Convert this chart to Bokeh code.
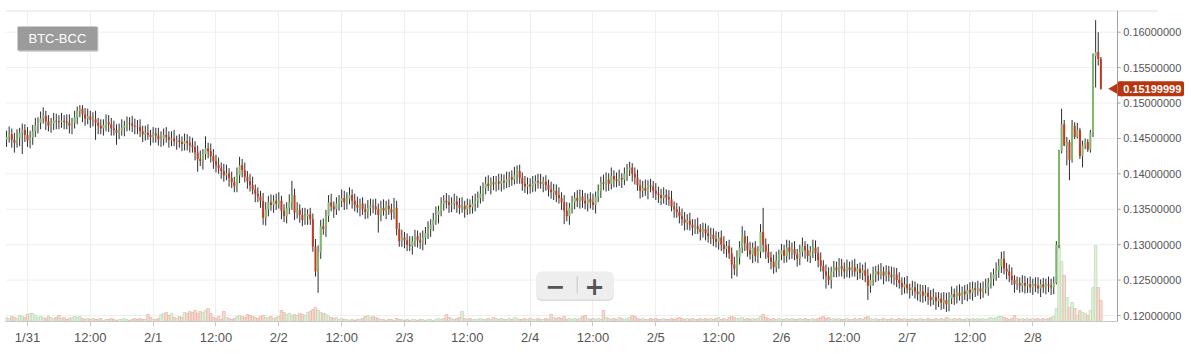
import numpy as np
from bokeh.plotting import figure
from bokeh.models import Range1d, FixedTicker, Label, BoxAnnotation, Span
from bokeh.core.properties import value
from bokeh.embed import file_html
from bokeh.resources import INLINE

symbol = "BTC-BCC"
last_price = 0.15199999
x_tick_hours = [0, 12, 24, 36, 48, 60, 72, 84, 96, 108, 120, 132, 144, 156, 168, 180, 192]
x_tick_labels = ["1/31", "12:00", "2/1", "12:00", "2/2", "12:00", "2/3", "12:00", "2/4",
                 "12:00", "2/5", "12:00", "2/6", "12:00", "2/7", "12:00", "2/8"]
y_ticks = [0.12, 0.125, 0.13, 0.135, 0.14, 0.145, 0.15, 0.155, 0.16]
first_candle_hour = -4.0   # hours after 1/31 00:00
candle_hours = 0.5         # 30-minute candles
price_unit = 1e-4          # prices below are in units of 0.0001 BTC

opens = [
1448,1452,1456,1448,1444,1451,1458,1462,1455,1447, 1451,1460,1468,1472,1478,1482,1474,1468,1471,1475,
1474,1473,1475,1474,1472,1468,1472,1480,1489,1492, 1484,1478,1481,1476,1477,1472,1468,1464,1469,1473,
1470,1464,1462,1458,1461,1465,1468,1472,1471,1468, 1467,1466,1460,1456,1458,1455,1452,1457,1454,1449,
1450,1455,1452,1448,1450,1446,1447,1445,1442,1446, 1444,1440,1438,1430,1421,1418,1428,1436,1432,1425,
1418,1412,1408,1404,1398,1401,1394,1388,1383,1398, 1412,1405,1396,1390,1384,1378,1372,1368,1362,1338,
1350,1360,1356,1362,1358,1362,1348,1340,1352,1360, 1370,1345,1349,1342,1335,1340,1343,1336,1297,1262,
1289,1326,1322,1341,1360,1354,1350,1358,1362,1366, 1360,1365,1370,1362,1356,1352,1358,1350,1346,1352,
1355,1354,1350,1342,1352,1348,1355,1350,1345,1352, 1322,1305,1310,1306,1300,1298,1305,1312,1306,1303,
1310,1316,1322,1328,1335,1342,1348,1358,1362,1360, 1356,1358,1361,1356,1352,1355,1350,1356,1353,1358,
1362,1366,1372,1380,1386,1383,1388,1385,1389,1386, 1390,1388,1392,1395,1392,1398,1404,1394,1386,1382,
1385,1382,1386,1390,1388,1386,1389,1384,1378,1374, 1376,1370,1366,1360,1348,1340,1352,1360,1366,1362,
1368,1362,1358,1364,1360,1356,1368,1376,1388,1386, 1392,1386,1397,1392,1390,1394,1392,1400,1406,1409,
1400,1395,1384,1376,1380,1376,1384,1382,1376,1372, 1370,1366,1370,1367,1364,1354,1350,1346,1340,1336,
1331,1334,1328,1324,1326,1322,1318,1322,1316,1312, 1314,1308,1304,1310,1300,1294,1298,1288,1272,1266,
1282,1296,1312,1302,1292,1286,1296,1284,1290,1318, 1300,1290,1282,1276,1268,1278,1286,1292,1284,1296,
1290,1294,1286,1280,1290,1298,1292,1284,1290,1296, 1288,1278,1270,1262,1256,1250,1262,1268,1264,1270,
1266,1262,1268,1264,1268,1262,1266,1260,1264,1256, 1242,1250,1258,1262,1258,1262,1256,1262,1258,1254,
1258,1250,1246,1240,1244,1238,1236,1240,1234,1230, 1234,1228,1232,1226,1222,1226,1220,1224,1218,1222,
1216,1224,1230,1226,1232,1228,1234,1230,1236,1232, 1238,1236,1238,1234,1238,1240,1246,1252,1258,1264,
1270,1280,1266,1262,1256,1250,1244,1246,1242,1246, 1242,1244,1240,1244,1242,1238,1244,1240,1244,1242,
1240,1246,1300,1432,1470,1440,1445,1420,1468,1452, 1462,1425,1440,1445,1434,1458,1566,1572,1562]

highs = [
1461,1467,1464,1458,1463,1465,1471,1470,1466,1461, 1469,1479,1480,1488,1494,1489,1483,1479,1486,1485,
1483,1486,1483,1484,1484,1479,1489,1495,1497,1497, 1493,1492,1489,1487,1489,1479,1477,1477,1484,1483,
1479,1475,1470,1471,1477,1475,1481,1480,1482,1478, 1476,1477,1468,1468,1470,1462,1466,1465,1465,1460,
1464,1466,1460,1460,1462,1454,1456,1453,1457,1456, 1453,1451,1446,1440,1433,1435,1453,1444,1443,1435,
1427,1423,1416,1414,1413,1408,1403,1396,1409,1424, 1421,1416,1404,1400,1396,1385,1381,1376,1373,1360,
1369,1371,1370,1372,1374,1369,1357,1360,1371,1390, 1379,1360,1357,1352,1352,1350,1352,1344,1308,1299,
1335,1337,1349,1370,1372,1361,1367,1370,1378,1376, 1374,1381,1378,1372,1368,1365,1367,1358,1363,1365,
1364,1365,1358,1362,1364,1362,1364,1358,1366,1362, 1331,1321,1318,1316,1312,1312,1321,1320,1317,1320,
1325,1333,1336,1345,1354,1355,1367,1370,1373,1370, 1367,1372,1369,1366,1367,1362,1365,1364,1369,1372,
1375,1383,1388,1396,1398,1395,1397,1397,1400,1400, 1399,1403,1403,1405,1410,1412,1413,1402,1397,1395,
1394,1397,1398,1400,1400,1396,1398,1392,1389,1386, 1385,1381,1374,1370,1360,1359,1369,1374,1377,1378,
1377,1373,1372,1374,1372,1375,1385,1396,1399,1402, 1401,1409,1405,1402,1406,1401,1409,1414,1417,1415,
1409,1406,1392,1390,1392,1391,1393,1390,1387,1382, 1379,1381,1378,1377,1376,1361,1359,1354,1351,1346,
1343,1345,1336,1336,1338,1329,1331,1330,1327,1324, 1323,1319,1318,1320,1312,1305,1307,1296,1283,1292,
1305,1326,1320,1312,1304,1303,1305,1298,1329,1352, 1309,1301,1290,1286,1290,1293,1301,1300,1307,1306,
1303,1305,1294,1300,1310,1305,1301,1298,1307,1306, 1297,1289,1278,1272,1268,1269,1277,1276,1281,1280,
1275,1279,1276,1278,1280,1273,1275,1272,1275,1266, 1259,1269,1270,1272,1274,1269,1271,1270,1269,1268,
1267,1261,1254,1254,1256,1245,1249,1248,1245,1244, 1243,1243,1240,1236,1238,1233,1233,1232,1233,1232,
1233,1241,1238,1242,1244,1241,1243,1244,1247,1248, 1247,1249,1246,1248,1252,1253,1261,1266,1275,1280,
1290,1291,1274,1272,1268,1257,1255,1254,1257,1256, 1253,1255,1252,1254,1254,1251,1253,1252,1255,1252,
1255,1305,1434,1492,1476,1452,1448,1476,1473,1472, 1465,1447,1450,1449,1462,1570,1617,1600,1565]

lows = [
1438,1444,1437,1430,1437,1439,1428,1445,1438,1436, 1441,1452,1457,1463,1471,1462,1460,1458,1462,1463,
1463,1465,1463,1463,1457,1456,1464,1470,1480,1473, 1468,1470,1465,1467,1448,1456,1456,1454,1460,1459,
1454,1454,1441,1449,1454,1453,1460,1461,1459,1456, 1456,1452,1445,1447,1448,1440,1444,1444,1440,1438,
1440,1444,1437,1439,1439,1434,1437,1432,1433,1433, 1430,1430,1419,1403,1411,1406,1420,1422,1416,1407,
1402,1400,1393,1389,1391,1382,1380,1374,1374,1387, 1395,1388,1379,1375,1371,1360,1360,1352,1328,1327,
1340,1348,1345,1349,1351,1336,1332,1330,1343,1349, 1335,1337,1331,1326,1328,1328,1328,1290,1255,1232,
1280,1314,1311,1332,1347,1338,1342,1348,1353,1349, 1350,1357,1351,1347,1345,1340,1342,1336,1337,1341,
1344,1342,1317,1333,1341,1336,1342,1335,1336,1313, 1297,1297,1295,1291,1291,1286,1297,1296,1294,1292,
1300,1308,1311,1319,1328,1330,1340,1348,1351,1345, 1346,1350,1345,1343,1345,1338,1342,1343,1344,1347,
1352,1358,1361,1371,1376,1371,1377,1375,1377,1375, 1378,1380,1381,1383,1385,1386,1386,1376,1373,1371,
1372,1374,1375,1379,1379,1374,1376,1368,1365,1363, 1360,1358,1349,1329,1333,1328,1344,1350,1353,1351,
1352,1350,1347,1351,1349,1344,1360,1366,1377,1375, 1376,1378,1381,1381,1383,1380,1384,1390,1397,1389,
1385,1376,1365,1367,1369,1364,1374,1366,1363,1359, 1356,1358,1356,1355,1347,1338,1338,1330,1327,1320,
1321,1320,1313,1315,1315,1306,1310,1306,1303,1301, 1298,1296,1293,1291,1287,1282,1280,1252,1257,1255,
1272,1288,1291,1283,1279,1274,1276,1274,1281,1289, 1280,1274,1265,1259,1261,1266,1278,1274,1275,1279,
1280,1278,1269,1271,1283,1280,1276,1274,1281,1277, 1268,1262,1251,1238,1243,1238,1254,1254,1255,1255,
1252,1254,1253,1255,1255,1250,1252,1250,1247,1222, 1232,1242,1247,1249,1251,1244,1248,1248,1245,1243,
1240,1238,1229,1231,1231,1224,1228,1224,1221,1219, 1218,1220,1215,1213,1215,1208,1212,1208,1209,1205,
1206,1216,1215,1217,1221,1216,1222,1220,1223,1221, 1226,1228,1223,1225,1231,1228,1238,1242,1249,1253,
1260,1258,1251,1247,1243,1232,1236,1232,1233,1231, 1232,1232,1229,1233,1231,1226,1232,1230,1233,1229,
1230,1244,1295,1429,1439,1412,1391,1416,1449,1450, 1421,1409,1435,1431,1430,1452,1522,1553,1519]

closes = [
1452,1456,1448,1444,1451,1458,1462,1455,1447,1451, 1460,1468,1472,1478,1482,1474,1468,1471,1475,1474,
1473,1475,1474,1472,1468,1472,1480,1489,1492,1484, 1478,1481,1476,1477,1472,1468,1464,1469,1473,1470,
1464,1462,1458,1461,1465,1468,1472,1471,1468,1467, 1466,1460,1456,1458,1455,1452,1457,1454,1449,1450,
1455,1452,1448,1450,1446,1447,1445,1442,1446,1444, 1440,1438,1430,1421,1418,1428,1436,1432,1425,1418,
1412,1408,1404,1398,1401,1394,1388,1383,1398,1412, 1405,1396,1390,1384,1378,1372,1368,1362,1338,1350,
1360,1356,1362,1358,1362,1348,1340,1352,1360,1370, 1345,1349,1342,1335,1340,1343,1336,1297,1262,1289,
1326,1322,1341,1360,1354,1350,1358,1362,1366,1360, 1365,1370,1362,1356,1352,1358,1350,1346,1352,1355,
1354,1350,1342,1352,1348,1355,1350,1345,1352,1322, 1305,1310,1306,1300,1298,1305,1312,1306,1303,1310,
1316,1322,1328,1335,1342,1348,1358,1362,1360,1356, 1358,1361,1356,1352,1355,1350,1356,1353,1358,1362,
1366,1372,1380,1386,1383,1388,1385,1389,1386,1390, 1388,1392,1395,1392,1398,1404,1394,1386,1382,1385,
1382,1386,1390,1388,1386,1389,1384,1378,1374,1376, 1370,1366,1360,1348,1340,1352,1360,1366,1362,1368,
1362,1358,1364,1360,1356,1368,1376,1388,1386,1392, 1386,1397,1392,1390,1394,1392,1400,1406,1409,1400,
1395,1384,1376,1380,1376,1384,1382,1376,1372,1370, 1366,1370,1367,1364,1354,1350,1346,1340,1336,1331,
1334,1328,1324,1326,1322,1318,1322,1316,1312,1314, 1308,1304,1310,1300,1294,1298,1288,1272,1266,1282,
1296,1312,1302,1292,1286,1296,1284,1290,1318,1300, 1290,1282,1276,1268,1278,1286,1292,1284,1296,1290,
1294,1286,1280,1290,1298,1292,1284,1290,1296,1288, 1278,1270,1262,1256,1250,1262,1268,1264,1270,1266,
1262,1268,1264,1268,1262,1266,1260,1264,1256,1242, 1250,1258,1262,1258,1262,1256,1262,1258,1254,1258,
1250,1246,1240,1244,1238,1236,1240,1234,1230,1234, 1228,1232,1226,1222,1226,1220,1224,1218,1222,1216,
1224,1230,1226,1232,1228,1234,1230,1236,1232,1238, 1236,1238,1234,1238,1240,1246,1252,1258,1264,1270,
1280,1266,1262,1256,1250,1244,1246,1242,1246,1242, 1244,1240,1244,1242,1238,1244,1240,1244,1242,1240,
1246,1300,1432,1470,1440,1445,1420,1468,1452,1462, 1425,1440,1445,1434,1458,1566,1572,1562,1519.9999]

volumes = [
4,3,5,4,3,6,5,4,7,8, 8,6,4,5,4,3,5,4,3,4, 6,3,4,2,3,4,5,4,5,3, 2,3,2,3,2,2,3,1,2,2,
3,2,1,2,2,3,2,1,2,3, 2,3,2,2,7,4,2,2,3,7, 8,9,6,8,4,3,5,4,9,8, 10,9,11,8,10,9,11,13,8,4,
3,5,2,10,4,3,2,3,5,6, 5,4,7,6,5,4,3,5,6,4, 4,5,3,4,5,11,9,7,8,6, 7,6,8,7,6,9,10,12,14,11,
9,8,7,5,4,3,4,2,3,2, 2,1,2,1,2,2,3,5,6,4, 5,4,3,2,2,1,2,2,1,3, 2,2,1,2,1,2,2,1,2,2,
1,2,2,1,2,3,2,3,7,4, 3,2,3,4,10,3,2,3,2,2, 2,3,2,2,3,2,4,3,2,3, 2,2,3,2,4,3,2,2,3,2,
3,2,2,3,2,2,3,2,7,4, 3,4,3,5,2,3,2,3,2,3, 5,6,3,2,3,2,3,2,11,4, 3,2,3,2,4,3,2,3,4,6,
5,3,2,3,2,2,3,2,3,2, 2,3,2,2,3,2,3,4,3,2, 3,2,3,2,2,3,2,3,2,3, 2,3,4,2,3,2,4,5,4,3,
3,4,2,3,2,3,2,3,5,7, 4,3,2,3,2,3,2,2,3,2, 3,2,2,3,2,3,2,2,3,2, 3,4,5,3,4,2,3,2,3,2,
2,3,2,2,3,2,3,2,4,5, 3,2,3,2,2,3,2,2,3,2, 2,3,2,3,2,2,3,2,2,3, 2,2,3,2,2,3,2,3,2,4,
3,2,3,2,3,2,2,3,2,3, 2,3,2,3,2,3,4,3,4,5, 5,4,3,2,3,6,3,2,3,2, 3,2,3,2,3,2,3,2,3,4,
5,13,76,60,46,24,14,19,13,6, 11,9,8,6,11,34,76,34,21]

lens = [len(opens), len(highs), len(lows), len(closes), len(volumes)]
if len(set(lens)) != 1:
    raise SystemExit("length mismatch: %s" % lens)

n = len(closes)
t = first_candle_hour + candle_hours * np.arange(n)
o = np.array(opens, dtype=float) * price_unit
h = np.array(highs, dtype=float) * price_unit
l = np.array(lows, dtype=float) * price_unit
c = np.array(closes, dtype=float) * price_unit
v = np.array(volumes, dtype=float)
up = c >= o

UP, DOWN, TAG = "#7fb86a", "#c23b22", "#b8360f"
body_colors = [UP if u else DOWN for u in up]
vol_fill = ["#e2f0dc" if u else "#f7dbd2" for u in up]
vol_line = ["#b7d3a9" if u else "#e3ab9b" for u in up]

# layout: the frame spans the whole width; the price scale sits at axis_hour
x_start, axis_hour, x_right = -4.2, 208.18, 222.31
y_start, y_end = 0.119153, 0.163064
p = figure(width=1191, height=354,
           x_range=Range1d(x_start, x_right), y_range=Range1d(y_start, y_end),
           y_axis_location=None, output_backend="svg", toolbar_location=None,
           min_border_left=5, min_border_right=0, min_border_top=10, min_border_bottom=33,
           background_fill_color="white", border_fill_color="white",
           outline_line_color=None)
p.extra_y_ranges = {"vol": Range1d(0, 311)}
p.ygrid.visible = False
p.xgrid.grid_line_color = "#efefef"

nt = len(y_ticks)
# horizontal grid lines, stopping at the price scale
p.segment(x0=[x_start] * nt, y0=y_ticks, x1=[axis_hour] * nt, y1=y_ticks,
          line_color="#efefef", line_width=1)
# top border line
p.segment(x0=[x_start], y0=[y_end], x1=[215.8], y1=[y_end], line_color="#e2e2e2", line_width=2)

p.vbar(x=t, top=v, bottom=0, width=candle_hours, y_range_name="vol",
       fill_color=vol_fill, line_color=vol_line, line_width=0.6)
p.segment(x0=t, y0=h, x1=t, y1=l, line_color="#2e2e2e", line_width=1)
p.segment(x0=t, y0=o, x1=t, y1=c, line_color=body_colors, line_width=2)

# price scale on the right
p.add_layout(Span(location=axis_hour, dimension="height", line_color="#a0a0a0", line_width=1))
p.segment(x0=[axis_hour] * nt, y0=y_ticks, x1=[axis_hour + 0.6] * nt, y1=y_ticks,
          line_color="#a0a0a0", line_width=1)
p.text(x=[axis_hour] * nt, y=y_ticks, text=["%.8f" % yv for yv in y_ticks], x_offset=5.7,
       text_font=value("Liberation Sans"), text_font_size="11px", text_color="#555555",
       text_align="left", text_baseline="middle")

xa = p.xaxis[0]
xa.ticker = FixedTicker(ticks=x_tick_hours)
xa.major_label_overrides = {k: s for k, s in zip(x_tick_hours, x_tick_labels)}
xa.bounds = (x_start, axis_hour)
xa.axis_line_color = "#c8c8c8"
xa.major_tick_line_color = "#c8c8c8"
xa.major_tick_out = 5
xa.major_tick_in = 0
xa.minor_tick_line_color = None
xa.major_label_text_font = "Liberation Sans"
xa.major_label_text_font_size = "13px"
xa.major_label_text_color = "#555555"
xa.major_label_standoff = 3

# last price tag
p.scatter(x=[axis_hour], y=[last_price], marker="triangle", size=16, angle=np.pi / 2,
          fill_color=TAG, line_color=None)
p.add_layout(BoxAnnotation(left=axis_hour, right=axis_hour + 12.7,
                           bottom=last_price - 0.00106, top=last_price + 0.00106,
                           fill_color=TAG, fill_alpha=1, line_color=None, border_radius=2))
p.add_layout(Label(x=axis_hour, y=last_price, x_offset=5.7, text="%.8f" % last_price,
                   text_font="Liberation Sans", text_font_size="11px", text_font_style="bold",
                   text_color="white", text_align="left", text_baseline="middle"))

def screen_box(left, right, bottom, top, color, radius=0):
    return BoxAnnotation(left=left, right=right, bottom=bottom, top=top,
                         left_units="screen", right_units="screen",
                         top_units="screen", bottom_units="screen",
                         fill_color=color, fill_alpha=1, line_color=None, border_radius=radius)

# symbol badge
p.add_layout(screen_box(13, 93, 269.5, 294.5, "#d6d6d6", 1))
p.add_layout(screen_box(12, 92, 271, 295, "#9b9b9b", 1))
p.add_layout(Label(x=23, y=283, x_units="screen", y_units="screen", text=symbol,
                   text_font="Liberation Sans", text_font_size="13px", text_color="white",
                   text_align="left", text_baseline="middle"))

# zoom control
p.add_layout(screen_box(531, 608, 20.5, 48.5, "#dcdcdc", 5))
p.add_layout(screen_box(531, 608, 22, 50, "#eeeeee", 5))
p.add_layout(screen_box(571.2, 572.2, 28, 45, "#c8c8c8"))
for sx, sym in ((549.5, "\u2212"), (589, "+")):
    p.add_layout(Label(x=sx, y=35.5, x_units="screen", y_units="screen", text=sym,
                       text_font="DejaVu Sans", text_font_style="bold", text_font_size="24px",
                       text_color="#555555", text_align="center", text_baseline="middle"))

open("out.html", "w").write(file_html(p, INLINE))
